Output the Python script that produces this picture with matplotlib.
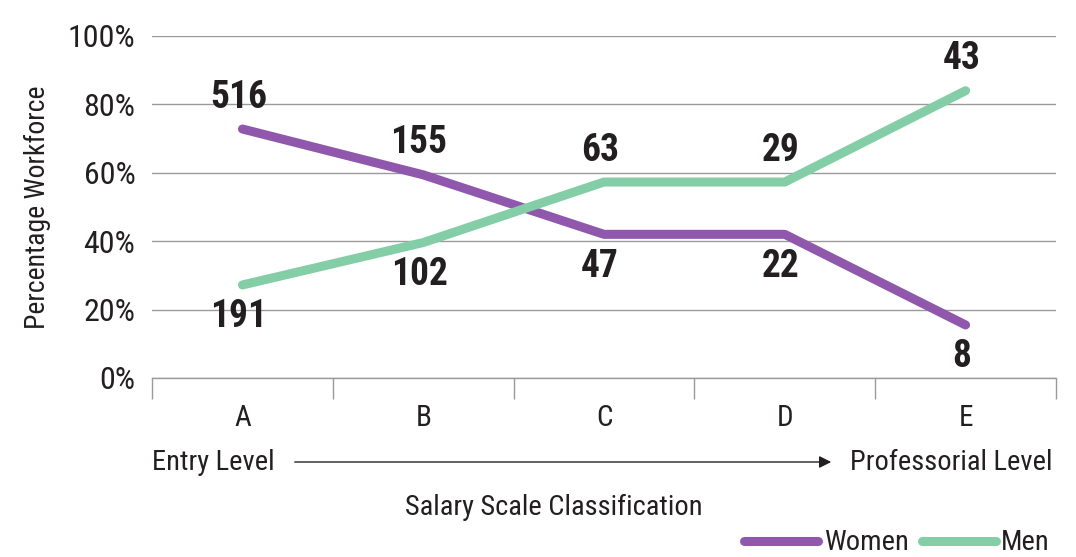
import matplotlib
matplotlib.use("Agg")
import matplotlib.pyplot as plt

# values
categories = ["A", "B", "C", "D", "E"]
women_pct = [72.8, 59.4, 42.0, 42.0, 15.5]
men_pct = [27.2, 39.6, 57.3, 57.3, 84.0]
women_counts = [516, 155, 47, 22, 8]
men_counts = [191, 102, 63, 29, 43]
y_ticks = [0, 20, 40, 60, 80, 100]

WOMEN_COLOR = "#9058AC"
MEN_COLOR = "#84CEA7"
TEXT_COLOR = "#231F20"
GRID_COLOR = "#9A9A9A"
BOLD_FAMILY = ["Roboto Condensed", "Saira SemiCondensed", "DejaVu Sans"]


def main():
    plt.rcParams["font.family"] = ["Roboto Condensed", "Archivo Narrow", "DejaVu Sans"]

    fig = plt.figure(figsize=(10.76, 5.57), dpi=100)
    ax = fig.add_axes([0.1413, 0.3214, 0.8401, 0.614])

    x = list(range(len(categories)))
    ax.plot(x, women_pct, color=WOMEN_COLOR, lw=6.5, solid_capstyle="round",
            solid_joinstyle="round", label="Women", zorder=3)
    ax.plot(x, men_pct, color=MEN_COLOR, lw=6.5, solid_capstyle="round",
            solid_joinstyle="round", label="Men", zorder=3)

    # counts: above the higher line, below the lower line
    for i in x:
        for pct, other, count in [(women_pct[i], men_pct[i], women_counts[i]),
                                  (men_pct[i], women_pct[i], men_counts[i])]:
            above = pct >= other
            ax.annotate(str(count), (i, pct),
                        xytext=(-3, 23 if above else -23),
                        textcoords="offset points",
                        ha="center", va="center", family=BOLD_FAMILY,
                        fontsize=27, fontweight="bold", color=TEXT_COLOR)

    ax.set_xlim(-0.5, len(categories) - 0.5)
    ax.set_ylim(0, 100)
    ax.set_yticks(y_ticks)
    ax.set_yticklabels([f"{v}%" for v in y_ticks])
    ax.yaxis.grid(True, color=GRID_COLOR, lw=1)
    ax.set_axisbelow(True)
    ax.tick_params(axis="y", length=0, pad=12, labelsize=23, labelcolor=TEXT_COLOR)

    # x ticks: category labels centred, tick marks on band boundaries
    ax.set_xticks(x)
    ax.set_xticklabels(categories)
    ax.tick_params(axis="x", which="major", length=0, pad=19, labelsize=21,
                   labelcolor=TEXT_COLOR)
    ax.set_xticks([i - 0.5 for i in range(len(categories) + 1)], minor=True)
    ax.tick_params(axis="x", which="minor", length=15, width=1, color=GRID_COLOR)

    for side in ["left", "right", "top"]:
        ax.spines[side].set_visible(False)
    ax.spines["bottom"].set_color(GRID_COLOR)
    ax.spines["bottom"].set_linewidth(1)

    ax.set_ylabel("Percentage Workforce", fontsize=20, color=TEXT_COLOR, labelpad=12)

    # entry -> professorial arrow
    fig.text(152 / 1076, 1 - 462 / 557, "Entry Level", ha="left", va="center",
             fontsize=20.5, color=TEXT_COLOR)
    fig.text(1052 / 1076, 1 - 462 / 557, "Professorial Level", ha="right",
             va="center", fontsize=20.5, color=TEXT_COLOR)
    ax.annotate("", xy=(834 / 1076, 1 - 462 / 557), xytext=(292 / 1076, 1 - 462 / 557),
                xycoords="figure fraction", textcoords="figure fraction",
                arrowprops=dict(arrowstyle="-|>", color=TEXT_COLOR, lw=1,
                                mutation_scale=18))
    fig.text(554 / 1076, 1 - 507 / 557, "Salary Scale Classification", ha="center",
             va="center", fontsize=20.5, color=TEXT_COLOR)

    ax.legend(loc="center right", bbox_to_anchor=(1050 / 1076, 1 - 543 / 557),
              bbox_transform=fig.transFigure, ncol=2, frameon=False,
              fontsize=20.5, handlelength=2.6, handletextpad=0.2,
              columnspacing=0.45, labelcolor=TEXT_COLOR, borderpad=0,
              borderaxespad=0)

    fig.savefig("out.png", dpi=100)
    plt.close(fig)


if __name__ == "__main__":
    main()
